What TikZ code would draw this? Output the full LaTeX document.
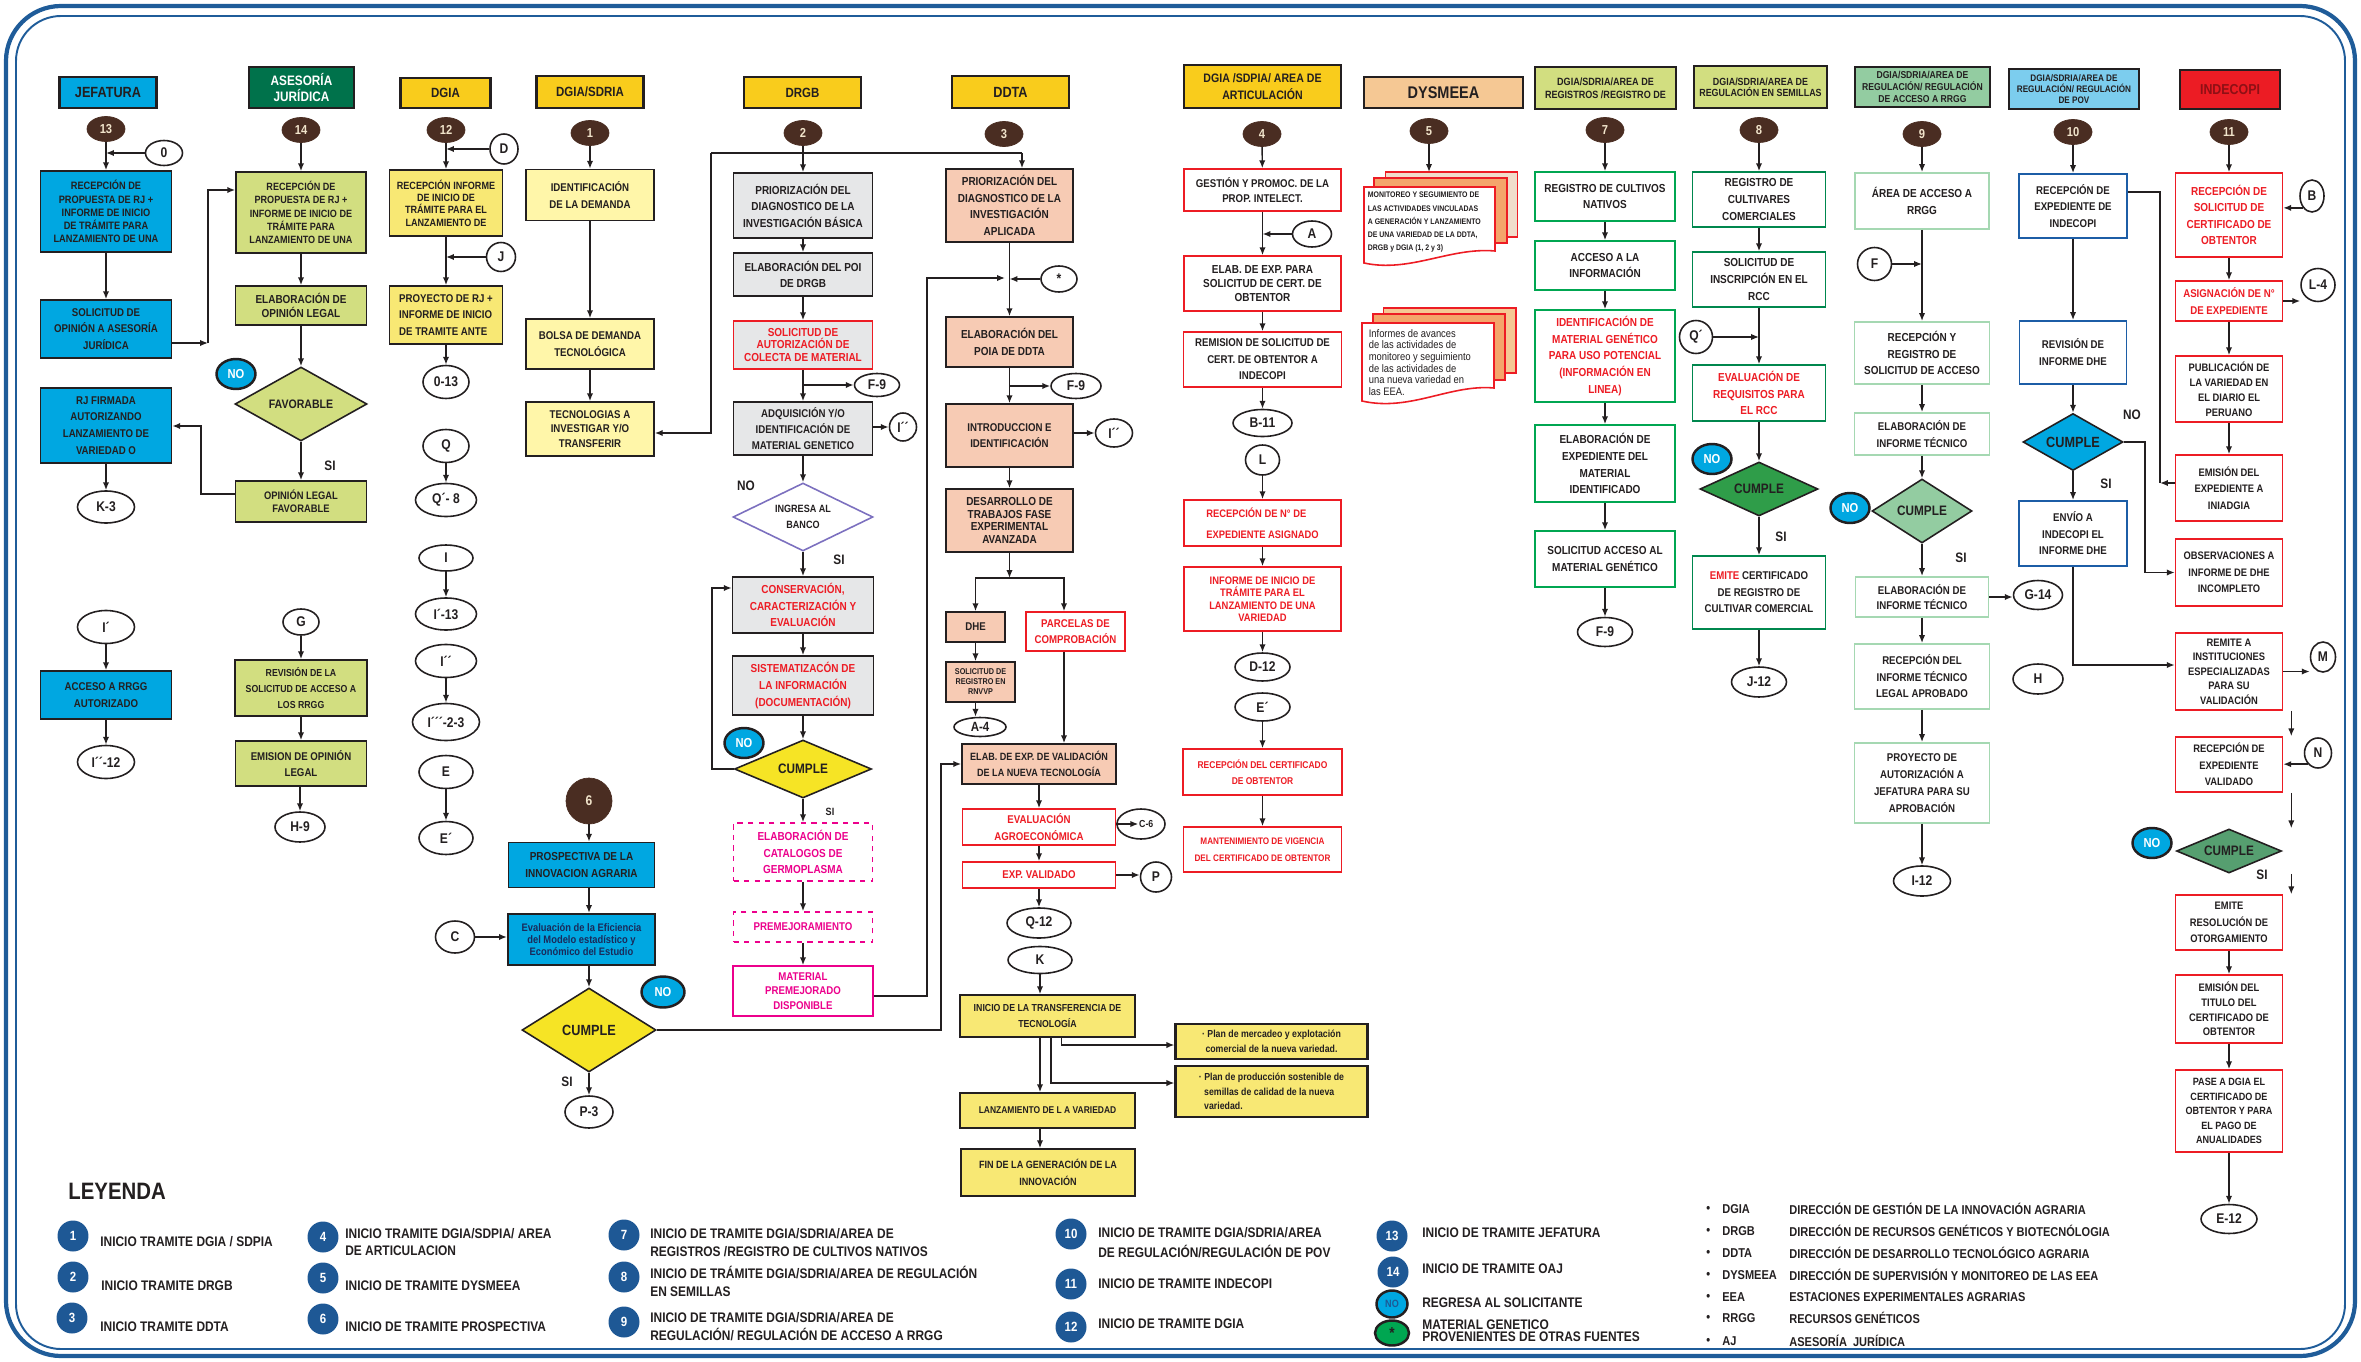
\documentclass[tikz,border=0pt]{standalone}
\usepackage{fontspec}
\setmainfont{Liberation Sans}[FakeStretch=0.86]
\usetikzlibrary{shapes.geometric, arrows.meta, positioning, calc}
\definecolor{ink}{HTML}{231F20}
\definecolor{cyn}{HTML}{00A7E1}
\definecolor{asegrn}{HTML}{00724B}
\definecolor{gold}{HTML}{F9CC1C}
\definecolor{lime}{HTML}{D2DE80}
\definecolor{yel}{HTML}{F8E874}
\definecolor{paleyel}{HTML}{FFF6A9}
\definecolor{gry}{HTML}{E6E7E8}
\definecolor{sal}{HTML}{F7CBB4}
\definecolor{peach}{HTML}{F5C894}
\definecolor{brn}{HTML}{4A2D22}
\definecolor{cream}{HTML}{F1E4CB}
\definecolor{rd}{HTML}{ED1C24}
\definecolor{mag}{HTML}{EC008C}
\definecolor{grn}{HTML}{00A651}
\definecolor{dgrn}{HTML}{00874E}
\definecolor{mintb}{HTML}{A5D8B2}
\definecolor{mint}{HTML}{93CCA1}
\definecolor{povb}{HTML}{1C5DA6}
\definecolor{pov}{HTML}{7CCDEE}
\definecolor{indred}{HTML}{EC1C24}
\definecolor{indtxt}{HTML}{8E1015}
\definecolor{ylw}{HTML}{F6E425}
\definecolor{gdia}{HTML}{2F9D49}
\definecolor{dgdia}{HTML}{569F70}
\definecolor{purp}{HTML}{7C70BF}
\definecolor{orng}{HTML}{F4A56B}
\definecolor{beig}{HTML}{F0DDCB}
\definecolor{legblu}{HTML}{1E5895}
\definecolor{frmblue}{HTML}{1F5C99}
\definecolor{navyt}{HTML}{1A2A5A}
\def\pxu{0.02cm}
\tikzset{sz/.style 2 args={minimum width=#1*\pxu, minimum height=#2*\pxu},
  fs/.style 2 args={font=\fontsize{#1}{#2}\selectfont\bfseries}}
\tikzstyle{box} = [draw=ink, line width=0.9pt, align=center, inner sep=1pt, text=ink, fs={6.4}{9.4}]
\tikzstyle{hdr} = [box, line width=1.2pt, fs={7.6}{9}]
\tikzstyle{conn} = [ellipse, draw=ink, line width=0.9pt, fill=white, inner sep=0pt, text=ink, fs={8}{9}]
\tikzstyle{numc} = [ellipse, fill=brn, draw=brn, inner sep=0pt, text=cream, fs={7.4}{8}, sz={38}{25}]
\tikzstyle{nocirc} = [ellipse, draw=ink, line width=1.4pt, fill=cyn, text=white, inner sep=0pt, fs={7.4}{8}, sz={39}{30}]
\tikzstyle{dec} = [diamond, draw=ink, line width=0.9pt, inner sep=0pt, aspect=2, align=center, text=ink, fs={7.8}{9}]
\tikzstyle{lbl} = [text=ink, inner sep=0pt, fs={7.8}{9}]
\tikzstyle{docpg} = [draw=rd, line width=0.9pt]
\tikzstyle{legc} = [circle, fill=legblu, text=white, inner sep=0pt, minimum size=0.62cm, fs={7.6}{8}]
\tikzstyle{legt} = [anchor=west, align=left, inner sep=0pt, text=ink, fs={7.9}{10.2}]
\tikzstyle{deft} = [anchor=west, inner sep=0pt, text=ink, fs={7.3}{8}]
\tikzstyle{arrow} = [line width=0.8pt, draw=ink, -{Latex[length=4.5pt, width=3.6pt]}]
\tikzstyle{line} = [line width=0.8pt, draw=ink]
\begin{document}
\begin{tikzpicture}[x=0.02cm, y=-0.02cm]
\useasboundingbox (0,0) rectangle (2361,1362);
\draw[draw=frmblue, line width=2.4pt, rounded corners=1.1cm] (6,6) rectangle (2355,1356);
\draw[draw=frmblue, line width=1.1pt, rounded corners=0.9cm] (16,16) rectangle (2345,1349);

\node[hdr, fill=cyn, sz={97}{31}, fs={8.4}{10}] (hjef) at (108,92.5) {JEFATURA};
\node[hdr, fill=asegrn, text=white, sz={105}{41}, fs={7.8}{9.4}] (hase) at (301.5,87.5) {ASESORÍA\\JURÍDICA};
\node[hdr, fill=gold, sz={90}{30}] (hdgia) at (445.5,93) {DGIA};
\node[hdr, fill=gold, sz={107}{32}] (hsdr) at (590,92) {DGIA/SDRIA};
\node[hdr, fill=gold, sz={117}{31}] (hdrgb) at (802.5,92.5) {DRGB};
\node[hdr, fill=gold, sz={117}{32}, fs={8.4}{10}] (hddta) at (1010.5,92) {DDTA};
\node[hdr, fill=gold, sz={157}{43}, fs={7}{9.4}] (hart) at (1262.5,86.5) {DGIA /SDPIA/ AREA DE\\ARTICULACIÓN};
\node[hdr, fill=peach, sz={159}{31}, fs={9.6}{11}] (hdys) at (1443.5,92.5) {DYSMEEA};
\node[hdr, fill=lime, sz={141}{42}, fs={6}{7.6}] (hreg) at (1605.5,88) {DGIA/SDRIA/AREA DE\\REGISTROS /REGISTRO DE};
\node[hdr, fill=lime, sz={133}{42}, fs={5.9}{6.4}] (hsem) at (1760.5,87) {DGIA/SDRIA/AREA DE\\REGULACIÓN EN SEMILLAS};
\node[hdr, fill=mint, sz={135}{40}, fs={5.7}{6.6}] (hacc) at (1922.5,87) {DGIA/SDRIA/AREA DE\\REGULACIÓN/ REGULACIÓN\\DE ACCESO A RRGG};
\node[hdr, fill=pov, sz={130}{40}, fs={5.4}{6.1}] (hpov) at (2074,89) {DGIA/SDRIA/AREA DE\\REGULACIÓN/ REGULACIÓN\\DE POV};
\node[hdr, fill=indred, text=indtxt, sz={100}{39}, fs={8.2}{9}] (hind) at (2230,89.5) {INDECOPI};

\node[numc] (n13) at (106,129) {13};
\node[numc] (n14) at (301,130) {14};
\node[numc] (n12) at (446,130) {12};
\node[numc] (n1) at (590,133) {1};
\node[numc] (n2) at (803,133) {2};
\node[numc] (n3) at (1004,134) {3};
\node[numc] (n4) at (1262,134) {4};
\node[numc] (n5) at (1429,131) {5};
\node[numc] (n7) at (1605,130) {7};
\node[numc] (n8) at (1759,130) {8};
\node[numc] (n9) at (1922,134) {9};
\node[numc] (n10) at (2073,132) {10};
\node[numc] (n11) at (2229,132) {11};
\node[numc, sz={46}{46}, fs={8}{9}] (n6) at (589,801) {6};

\node[box, fill=cyn, sz={131}{81}, fs={6.1}{7.5}] (jf1) at (106,211.5) {RECEPCIÓN DE\\PROPUESTA DE RJ +\\INFORME DE INICIO\\DE TRÁMITE PARA\\LANZAMIENTO DE UNA};
\node[box, fill=cyn, sz={131}{58}] (jf2) at (106,329) {SOLICITUD DE\\OPINIÓN A ASESORÍA\\JURÍDICA};
\node[box, fill=cyn, sz={131}{75}, fs={6.4}{9.6}] (jf3) at (106,425.5) {RJ FIRMADA\\AUTORIZANDO\\LANZAMIENTO DE\\VARIEDAD O};
\node[conn, sz={37}{25}] (k0) at (164,153) {0};
\node[conn, sz={57}{32}] (k3) at (106,507) {K-3};
\node[conn, sz={57}{33}] (ip) at (106,627) {I´};
\node[box, fill=cyn, sz={131}{48}] (jf4) at (106,695) {ACCESO A RRGG\\AUTORIZADO};
\node[conn, sz={57}{33}] (ipp12) at (106,762) {I´´-12};

\node[box, fill=lime, sz={130}{81}, fs={6}{7.6}] (as1) at (301,212.5) {RECEPCIÓN DE\\PROPUESTA DE RJ +\\INFORME DE INICIO DE\\TRÁMITE PARA\\LANZAMIENTO DE UNA};
\node[box, fill=lime, sz={131}{39}, fs={6.6}{7.6}] (as2) at (301,305.5) {ELABORACIÓN DE\\OPINIÓN LEGAL};
\node[dec, fill=lime, sz={132}{74}, fs={7}{8}] (fav) at (301,404) {FAVORABLE};
\node[nocirc] (no1) at (236,374) {NO};
\node[lbl] (si1) at (330,466) {SI};
\node[box, fill=lime, sz={131}{41}, fs={6.2}{7.4}] (as3) at (301,501.5) {OPINIÓN LEGAL\\FAVORABLE};
\node[conn, sz={36}{26}] (kg) at (301,622) {G};
\node[box, fill=lime, sz={132}{56}, fs={5.8}{9.2}] (as4) at (301,688) {REVISIÓN DE LA\\SOLICITUD DE ACCESO A\\LOS RRGG};
\node[box, fill=lime, sz={131}{45}] (as5) at (301,763.5) {EMISION DE OPINIÓN\\LEGAL};
\node[conn, sz={50}{30}] (h9) at (300,827) {H-9};

\node[box, fill=yel, sz={113}{66}, fs={6}{7}] (dg1) at (446,203) {RECEPCIÓN INFORME\\DE INICIO DE\\TRÁMITE PARA EL\\LANZAMIENTO DE};
\node[box, fill=yel, sz={113}{58}, align=left] (dg2) at (446,315) {PROYECTO DE RJ +\\INFORME DE INICIO\\DE TRAMITE ANTE};
\node[conn, sz={28}{30}] (kd) at (504,149) {D};
\node[conn, sz={29}{29}] (kj) at (501,257) {J};
\node[conn, sz={46}{33}] (k013) at (446,382) {0-13};
\node[conn, sz={46}{33}] (kq) at (446,446) {Q};
\node[conn, sz={61}{33}] (kq8) at (446,500) {Q´- 8};
\node[conn, sz={54}{26}] (ki) at (446,558) {I};
\node[conn, sz={61}{32}] (ki13) at (446,614) {I´-13};
\node[conn, sz={61}{33}] (kipp) at (446,661) {I´´};
\node[conn, sz={67}{37}] (ki23) at (446,722) {I´´´-2-3};
\node[conn, sz={54}{33}] (ke) at (446,772) {E};
\node[conn, sz={54}{33}] (kep) at (446,838) {E´};

\node[box, fill=paleyel, sz={128}{51}] (sd1) at (590,195) {IDENTIFICACIÓN\\DE LA DEMANDA};
\node[box, fill=paleyel, sz={128}{50}] (sd2) at (590,344) {BOLSA DE DEMANDA\\TECNOLÓGICA};
\node[box, fill=paleyel, sz={128}{54}, fs={6.4}{8.2}] (sd3) at (590,429) {TECNOLOGIAS A\\INVESTIGAR Y/O\\TRANSFERIR};

\node[box, fill=gry, sz={139}{65}, fs={6.6}{9.4}] (dr1) at (803,205.5) {PRIORIZACIÓN DEL\\DIAGNOSTICO DE LA\\INVESTIGACIÓN BÁSICA};
\node[box, fill=gry, sz={139}{43}, fs={6.6}{9.4}] (dr2) at (803,274.5) {ELABORACIÓN DEL POI\\DE DRGB};
\node[box, fill=gry, draw=rd, text=rd, sz={139}{48}, fs={6.6}{7.2}] (dr3) at (803,345) {SOLICITUD DE\\AUTORIZACIÓN DE\\COLECTA DE MATERIAL};
\node[conn, sz={45}{23}] (f9a) at (877,385) {F-9};
\node[box, fill=gry, sz={139}{53}, fs={6.4}{9.2}] (dr4) at (803,428.5) {ADQUISICIÓN Y/O\\IDENTIFICACIÓN DE\\MATERIAL GENETICO};
\node[conn, sz={27}{28}] (ipa) at (903,427) {I´´};
\node[dec, draw=purp, fill=white, sz={140}{68}, fs={6}{9.4}] (ban) at (803,517) {INGRESA AL\\BANCO};
\node[lbl] (no2) at (746,486) {NO};
\node[lbl] (si2) at (839,560) {SI};
\node[box, fill=gry, text=rd, sz={141}{56}, fs={6.6}{9.6}] (dr5) at (803,605) {CONSERVACIÓN,\\CARACTERIZACIÓN Y\\EVALUACIÓN};
\node[box, fill=gry, text=rd, sz={141}{59}, fs={6.6}{9.6}] (dr6) at (803,685.5) {SISTEMATIZACÓN DE\\LA INFORMACIÓN\\(DOCUMENTACIÓN)};
\node[dec, fill=ylw, sz={137}{58}] (cum1) at (803,769) {CUMPLE};
\node[nocirc] (no3) at (744,743) {NO};
\node[lbl, fs={6}{7}] (si3) at (830,812) {SI};
\node[box, dashed, draw=mag, text=mag, fill=white, sz={139}{58}, fs={6.6}{9.6}] (dr7) at (803,852) {ELABORACIÓN DE\\CATALOGOS DE\\GERMOPLASMA};
\node[box, dashed, draw=mag, text=mag, fill=white, sz={139}{30}] (dr8) at (803,927) {PREMEJORAMIENTO};
\node[box, draw=mag, text=mag, fill=white, sz={140}{50}, fs={6.4}{8.2}] (dr9) at (803,991) {MATERIAL\\PREMEJORADO\\DISPONIBLE};

\node[box, fill=sal, sz={127}{73}, fs={6.6}{9.4}] (dt1) at (1009.5,205.5) {PRIORIZACIÓN DEL\\DIAGNOSTICO DE LA\\INVESTIGACIÓN\\APLICADA};
\node[conn, sz={36}{26}] (kst) at (1059,279) {*};
\node[box, fill=sal, sz={127}{50}, fs={6.6}{9.6}] (dt2) at (1009.5,342) {ELABORACIÓN DEL\\POIA DE DDTA};
\node[conn, sz={50}{25}] (f9b) at (1076,386) {F-9};
\node[box, fill=sal, sz={127}{63}, fs={6.4}{9.4}] (dt3) at (1009.5,435.5) {INTRODUCCION E\\IDENTIFICACIÓN};
\node[conn, sz={37}{28}] (ipb) at (1114,433) {I´´};
\node[box, fill=sal, sz={127}{63}, fs={6.6}{7.3}] (dt4) at (1009.5,520.5) {DESARROLLO DE\\TRABAJOS FASE\\EXPERIMENTAL\\AVANZADA};
\node[box, fill=sal, sz={59}{30}] (dhe) at (975.5,627) {DHE};
\node[box, fill=sal, sz={69}{40}, fs={4.8}{5.7}] (rnv) at (980.5,682) {SOLICITUD DE\\REGISTRO EN\\RNVVP};
\node[conn, sz={52}{19}, fs={7.6}{8}] (a4) at (980,727) {A-4};
\node[box, draw=rd, text=rd, fill=white, sz={99}{39}] (pc) at (1075.5,631.5) {PARCELAS DE\\COMPROBACIÓN};
\node[box, fill=sal, sz={154}{40}, fs={6}{9}] (dt5) at (1039,764) {ELAB. DE EXP. DE VALIDACIÓN\\DE LA NUEVA TECNOLOGÍA};
\node[box, draw=rd, text=rd, fill=white, sz={153}{36}, fs={6.4}{9.4}] (dt6) at (1039,827) {EVALUACIÓN\\AGROECONÓMICA};
\node[conn, sz={48}{30}, fs={5.8}{6}] (c6k) at (1141,824) {\hspace{6pt}C-6};
\node[box, draw=rd, text=rd, fill=white, sz={153}{26}] (dt7) at (1039,875) {EXP. VALIDADO};
\node[conn, sz={31}{30}] (kp) at (1156,877) {P};
\node[conn, sz={64}{30}] (q12) at (1039,923) {Q-12};
\node[conn, sz={64}{27}] (kk) at (1040,960) {K};
\node[box, fill=yel, sz={175}{42}, fs={5.8}{9.4}] (dt8) at (1047.5,1016) {INICIO DE LA TRANSFERENCIA DE\\TECNOLOGÍA};
\node[box, fill=yel, sz={175}{35}, fs={5.6}{7}] (dt9) at (1047.5,1110.5) {LANZAMIENTO DE L A VARIEDAD};
\node[box, fill=yel, sz={174}{47}, fs={6}{9.4}] (dt10) at (1048,1172.5) {FIN DE LA GENERACIÓN DE LA\\INNOVACIÓN};
\node[box, fill=yel, line width=1.3pt, sz={192}{35}, fs={5.8}{8.4}] (pl1) at (1271.5,1041.5) {· Plan de mercadeo y explotación\\comercial de la nueva variedad.};
\node[box, fill=yel, line width=1.3pt, sz={192}{51}, fs={5.8}{8.4}, align=left] (pl2) at (1271.5,1091.5) {· Plan de producción sostenible de\\\hspace{3pt}semillas de calidad de la nueva\\\hspace{3pt}variedad.};

\node[box, draw=rd, fill=white, sz={157}{42}, fs={6.4}{9}] (ar1) at (1262.5,190) {GESTIÓN Y PROMOC. DE LA\\PROP. INTELECT.};
\node[conn, sz={39}{26}] (ka) at (1312,234) {A};
\node[box, draw=rd, fill=white, sz={157}{55}, fs={6.6}{8.2}] (ar2) at (1262.5,283.5) {ELAB. DE EXP. PARA\\SOLICITUD DE CERT. DE\\OBTENTOR};
\node[box, draw=rd, fill=white, sz={158}{55}, fs={6.4}{9.4}] (ar3) at (1262.5,359.5) {REMISION DE SOLICITUD DE\\CERT. DE OBTENTOR A\\INDECOPI};
\node[conn, sz={59}{27}] (b11) at (1262.5,423) {B-11};
\node[conn, sz={34}{30}] (kl) at (1262.5,460) {L};
\node[box, draw=rd, text=rd, fill=white, sz={157}{46}, fs={6.2}{11.8}, align=left] (ar4) at (1262.5,523) {RECEPCIÓN DE N° DE\\EXPEDIENTE ASIGNADO};
\node[box, draw=rd, text=rd, fill=white, sz={157}{64}, fs={6.2}{7.1}] (ar5) at (1262.5,599) {INFORME DE INICIO DE\\TRÁMITE PARA EL\\LANZAMIENTO DE UNA\\VARIEDAD};
\node[conn, sz={55}{28}] (d12) at (1262.5,667) {D-12};
\node[conn, sz={55}{28}] (kep2) at (1262.5,707) {E´};
\node[box, draw=rd, text=rd, fill=white, sz={159}{46}, fs={5.6}{9.4}] (ar6) at (1262.5,772) {RECEPCIÓN DEL CERTIFICADO\\DE OBTENTOR};
\node[box, draw=rd, text=rd, fill=white, sz={158}{45}, fs={5.4}{9.4}] (ar7) at (1262.5,849.5) {MANTENIMIENTO DE VIGENCIA\\DEL CERTIFICADO DE OBTENTOR};

\coordinate (dtop) at (1429,172);
\draw[docpg, fill=beig] (1385.5,172) rectangle (1517.5,237);
\draw[docpg, fill=orng] (1374,178) rectangle (1507,243);
\draw[docpg, fill=white] (1364,187) -- (1495,187) -- (1495,251) .. controls (1450,247) and (1410,273) .. (1364,263) -- cycle;
\node[anchor=north west, align=left, inner sep=0pt, text=ink, fs={4.6}{7.5}] (mon) at (1367.5,192) {MONITOREO Y SEGUIMIENTO DE\\LAS ACTIVIDADES VINCULADAS\\A GENERACIÓN Y LANZAMIENTO\\DE UNA VARIEDAD DE LA DDTA,\\DRGB y DGIA (1, 2 y 3)};
\draw[docpg, fill=peach] (1383.6,308) rectangle (1516,373);
\draw[docpg, fill=orng] (1373,314) rectangle (1505,380);
\draw[docpg, fill=white] (1362,323) -- (1494,323) -- (1494,388) .. controls (1450,384) and (1410,412) .. (1362,401) -- cycle;
\node[anchor=north west, align=left, inner sep=0pt, text=ink, font=\fontsize{6.2}{6.6}\selectfont] (inf) at (1368.5,329) {Informes de avances\\de las actividades de\\monitoreo y seguimiento\\de las actividades de\\una nueva variedad en\\las EEA.};

\node[box, draw=grn, fill=white, sz={140}{49}, fs={6.6}{9.6}] (rg1) at (1605,196.5) {REGISTRO DE CULTIVOS\\NATIVOS};
\node[box, draw=grn, fill=white, sz={140}{49}, fs={6.6}{9.6}] (rg2) at (1605,265.5) {ACCESO A LA\\INFORMACIÓN};
\node[box, draw=grn, fill=white, text=rd, sz={140}{92}, fs={6.6}{9.5}] (rg3) at (1605,356) {IDENTIFICACIÓN DE\\MATERIAL GENÉTICO\\PARA USO POTENCIAL\\(INFORMACIÓN EN\\LINEA)};
\node[box, draw=grn, fill=white, sz={140}{77}, fs={6.6}{9.6}] (rg4) at (1605,463.5) {ELABORACIÓN DE\\EXPEDIENTE DEL\\MATERIAL\\IDENTIFICADO};
\node[box, draw=grn, fill=white, sz={140}{56}, fs={6.6}{9.6}] (rg5) at (1605,559) {SOLICITUD ACCESO AL\\MATERIAL GENÉTICO};
\node[conn, sz={55}{29}] (f9c) at (1605,632) {F-9};

\node[box, draw=dgrn, fill=white, sz={133}{55}, fs={6.6}{9.4}] (se1) at (1759,199.5) {REGISTRO DE\\CULTIVARES\\COMERCIALES};
\node[box, draw=dgrn, fill=white, sz={133}{55}, fs={6.6}{9.4}] (se2) at (1759,279.5) {SOLICITUD DE\\INSCRIPCIÓN EN EL\\RCC};
\node[conn, sz={33}{33}] (kq1) at (1696,337) {Q´};
\node[box, draw=dgrn, fill=white, text=rd, sz={133}{56}, fs={6.6}{9.4}] (se3) at (1759,393) {EVALUACIÓN DE\\REQUISITOS PARA\\EL RCC};
\node[nocirc] (no4) at (1712,459) {NO};
\node[dec, fill=gdia, sz={118}{54}] (cum2) at (1759,489) {CUMPLE};
\node[lbl] (si4) at (1781,537) {SI};
\node[box, draw=dgrn, fill=white, sz={133}{73}, fs={6.4}{9.4}] (se4) at (1759,592.5) {\textcolor{rd}{EMITE} CERTIFICADO\\DE REGISTRO DE\\CULTIVAR COMERCIAL};
\node[conn, sz={55}{30}] (j12) at (1759,682) {J-12};

\node[box, draw=mintb, line width=1.1pt, fill=white, sz={134}{56}, fs={6.6}{9.6}] (rr1) at (1922,201) {ÁREA DE ACCESO A\\RRGG};
\node[conn, sz={34}{33}] (kf) at (1874.5,264) {F};
\node[box, draw=mintb, line width=1.1pt, fill=white, sz={135}{62}, fs={6.6}{9.4}] (rr2) at (1922,353) {RECEPCIÓN Y\\REGISTRO DE\\SOLICITUD DE ACCESO};
\node[box, draw=mintb, line width=1.1pt, fill=white, sz={135}{42}, fs={6.4}{9.4}] (rr3) at (1922,434) {ELABORACIÓN DE\\INFORME TÉCNICO};
\node[nocirc] (no5) at (1850,508) {NO};
\node[dec, fill=mint, sz={100}{64}] (cum3) at (1922,511) {CUMPLE};
\node[lbl] (si5) at (1961,558) {SI};
\node[box, draw=mintb, line width=1.1pt, fill=white, sz={133}{40}, fs={6.4}{9}] (rr4) at (1922,597) {ELABORACIÓN DE\\INFORME TÉCNICO};
\node[conn, sz={49}{29}] (g14) at (2038,595) {G-14};
\node[box, draw=mintb, line width=1.1pt, fill=white, sz={135}{65}, fs={6.4}{9.4}] (rr5) at (1922,676.5) {RECEPCIÓN DEL\\INFORME TÉCNICO\\LEGAL APROBADO};
\node[box, draw=mintb, line width=1.1pt, fill=white, sz={135}{80}, fs={6.4}{9.6}] (rr6) at (1922,783) {PROYECTO DE\\AUTORIZACIÓN A\\JEFATURA PARA SU\\APROBACIÓN};
\node[conn, sz={57}{30}] (i12) at (1922,881) {I-12};

\node[box, draw=povb, line width=1.1pt, fill=white, sz={108}{64}, fs={6.4}{9.4}] (pv1) at (2073,206) {RECEPCIÓN DE\\EXPEDIENTE DE\\INDECOPI};
\node[box, draw=povb, line width=1.1pt, fill=white, sz={107}{63}, fs={6.4}{9.6}] (pv2) at (2073,352.5) {REVISIÓN DE\\INFORME DHE};
\node[dec, fill=cyn, sz={100}{57}, fs={8.4}{9}] (cum4) at (2073,442) {CUMPLE};
\node[lbl] (no6) at (2132,415) {NO};
\node[lbl] (si6) at (2106,484) {SI};
\node[box, draw=povb, line width=1.1pt, fill=white, sz={108}{65}, fs={6.4}{9.4}] (pv3) at (2073,533.5) {ENVÍO A\\INDECOPI EL\\INFORME DHE};
\node[conn, sz={50}{30}] (kh) at (2038,679) {H};

\node[box, draw=rd, text=rd, fill=white, sz={107}{84}, fs={6.6}{9.4}] (in1) at (2229,215) {RECEPCIÓN DE\\SOLICITUD DE\\CERTIFICADO DE\\OBTENTOR};
\node[conn, sz={24}{32}] (kb) at (2312,196) {B};
\node[box, draw=rd, text=rd, fill=white, sz={107}{40}, fs={6.4}{9.4}] (in2) at (2229,301) {ASIGNACIÓN DE N°\\DE EXPEDIENTE};
\node[conn, sz={34}{33}] (kl4) at (2318,285) {L-4};
\node[box, draw=rd, fill=white, sz={107}{66}, fs={6.2}{8.5}] (in3) at (2229,389) {PUBLICACIÓN DE\\LA VARIEDAD EN\\EL DIARIO EL\\PERUANO};
\node[box, draw=rd, fill=white, sz={107}{66}, fs={6.2}{9.4}] (in4) at (2229,488) {EMISIÓN DEL\\EXPEDIENTE A\\INIADGIA};
\node[box, draw=rd, fill=white, sz={107}{67}, fs={6.2}{9.4}] (in5) at (2229,572.5) {OBSERVACIONES A\\INFORME DE DHE\\INCOMPLETO};
\node[box, draw=rd, fill=white, sz={107}{77}, fs={6.2}{8.3}] (in6) at (2229,671.5) {REMITE A\\INSTITUCIONES\\ESPECIALIZADAS\\PARA SU\\VALIDACIÓN};
\node[conn, sz={25}{30}] (km) at (2323,657) {M};
\node[box, draw=rd, fill=white, sz={107}{55}, fs={6.2}{9.4}] (in7) at (2229,764.5) {RECEPCIÓN DE\\EXPEDIENTE\\VALIDADO};
\node[conn, sz={27}{30}] (kn) at (2318,753) {N};
\node[dec, fill=dgdia, sz={105}{44}] (cum5) at (2229,851) {CUMPLE};
\node[nocirc] (no7) at (2152,843) {NO};
\node[lbl] (si7) at (2262,875) {SI};
\node[box, draw=rd, fill=white, sz={107}{55}, fs={6.2}{9.4}] (in8) at (2229,922.5) {EMITE\\RESOLUCIÓN DE\\OTORGAMIENTO};
\node[box, draw=rd, fill=white, sz={107}{68}, fs={6.2}{8.3}] (in9) at (2229,1009) {EMISIÓN DEL\\TITULO DEL\\CERTIFICADO DE\\OBTENTOR};
\node[box, draw=rd, fill=white, sz={107}{82}, fs={6}{8.2}] (in10) at (2229,1111) {PASE A DGIA EL\\CERTIFICADO DE\\OBTENTOR Y PARA\\EL PAGO DE\\ANUALIDADES};
\node[conn, sz={56}{29}] (e12) at (2229,1219) {E-12};

\node[box, fill=cyn, sz={146}{45}, fs={6.6}{9.6}] (ps1) at (581.5,865) {PROSPECTIVA DE LA\\INNOVACION AGRARIA};
\node[box, fill=cyn, line width=1.2pt, sz={147}{51}, text=navyt, fs={6.2}{6.9}] (ps2) at (581.5,939.5) {Evaluación de la Eficiencia\\del Modelo estadístico y\\Económico del Estudio};
\node[conn, sz={39}{32}] (kc) at (455,937) {C};
\node[dec, fill=ylw, sz={134}{84}, fs={8.4}{9}] (cum6) at (589,1030) {CUMPLE};
\node[nocirc, sz={43}{31}] (no8) at (663,992) {NO};
\node[lbl] (si8) at (567,1082) {SI};
\node[conn, sz={48}{32}] (p3) at (589,1112) {P-3};

\draw[arrow] (n13) -- (jf1);
\draw[arrow] (k0.west) -- (k0.west -| n13);
\draw[arrow] (jf1) -- (jf2);
\draw[arrow] (jf2.east |- 0,343) -- (208,343);
\draw[arrow] (208,343) |- (as1.west |- 0,190);
\draw[arrow] (as3.west |- 0,494) -- (201,494) -- (201,426) -- (jf3.east |- 0,426);
\draw[arrow] (jf3) -- (k3);
\draw[arrow] (ip) -- (jf4);
\draw[arrow] (jf4) -- (ipp12);

\draw[arrow] (n14) -- (as1);
\draw[arrow] (as1) -- (as2);
\draw[arrow] (as2) -- (fav);
\draw[arrow] (fav) -- (as3);
\draw[arrow] (kg) -- (as4);
\draw[arrow] (as4) -- (as5);
\draw[arrow] (as5.south -| h9) -- (h9);

\draw[arrow] (n12) -- (dg1);
\draw[arrow] (kd.west) -- (kd.west -| n12);
\draw[arrow] (dg1) -- (dg2);
\draw[arrow] (kj.west) -- (kj.west -| n12);
\draw[arrow] (dg2) -- (k013);
\draw[arrow] (kq) -- (kq8);
\draw[arrow] (ki) -- (ki13);
\draw[arrow] (kipp) -- (ki23);
\draw[arrow] (ke) -- (kep);

\draw[arrow] (n1) -- (sd1);
\draw[arrow] (sd1) -- (sd2);
\draw[arrow] (sd2) -- (sd3);

\coordinate (lt) at (711,153);
\draw[line] (lt) -- (1022,153);
\draw[arrow] (1022,153) -- (dt1.north -| 1022,0);
\draw[arrow] (lt) |- (sd3.east |- 0,433);
\draw[arrow] (n2) -- (dr1);
\draw[arrow] (dr1) -- (dr2);
\draw[arrow] (dr2) -- (dr3);
\draw[arrow] (dr3) -- (dr4);
\draw[arrow] (dr3.south |- f9a) -- (f9a);
\draw[arrow] (dr4.east |- ipa) -- (ipa);
\draw[arrow] (dr4) -- (ban);
\draw[arrow] (ban) -- (dr5);
\draw[arrow] (dr5) -- (dr6);
\draw[arrow] (dr6) -- (cum1);
\draw[arrow] (cum1.west) -- (712,769) |- (dr5.west |- 0,588);
\draw[arrow] (cum1) -- (dr7);
\draw[arrow] (dr7) -- (dr8);
\draw[arrow] (dr8) -- (dr9);
\draw[arrow] (dr9.east |- 0,996) -- (927,996) -- (927,278) -- (1005,278);
\draw[arrow] (kst) -- (kst -| dt1);

\draw[arrow] (dt1) -- (dt2);
\draw[arrow] (dt2) -- (dt3);
\draw[arrow] (dt2.south |- f9b) -- (f9b);
\draw[arrow] (dt3.east |- ipb) -- (ipb);
\draw[arrow] (dt3) -- (dt4);
\coordinate (sp) at (1009.5,578);
\draw[arrow] (dt4) -- (sp);
\draw[arrow] (sp) -| (dhe);
\draw[arrow] (sp) -| (pc.north -| 1064,0);
\draw[arrow] (dhe) -- (dhe |- rnv.north);
\draw[arrow] (rnv.south -| dhe) -- (a4.north -| dhe);
\draw[arrow] (pc.south -| 1064,0) -- (dt5.north -| 1064,0);
\draw[arrow] (dt5) -- (dt6);
\draw[arrow] (dt6) -- (dt7);
\draw[arrow] (dt7) -- (q12);
\draw[arrow] (dt6.east |- c6k) -- ++(22,0);
\draw[arrow] (dt7.east) -- (dt7.east -| kp.west);
\draw[arrow] (kk) -- (kk |- dt8.north);
\draw[arrow] (dt8.south -| kk) -- (dt9.north -| kk);
\draw[arrow] (dt9.south -| kk) -- (dt10.north -| kk);
\draw[arrow] (dt8.south -| 1061.5,0) |- (pl1.west |- 0,1045);
\draw[arrow] (dt8.south -| 1051,0) |- (pl2.west |- 0,1083);
\draw[arrow] (cum6.east) -- (941,1030) |- (dt5.west);

\draw[arrow] (n4) -- (ar1);
\draw[arrow] (ar1) -- (ar2);
\draw[arrow] (ka.west) -- (ka.west -| ar1);
\draw[arrow] (ar2) -- (ar3);
\draw[arrow] (ar3) -- (b11);
\draw[arrow] (kl) -- (ar4);
\draw[arrow] (ar4) -- (ar5);
\draw[arrow] (ar5) -- (d12);
\draw[arrow] (kep2) -- (ar6);
\draw[arrow] (ar6) -- (ar7);

\draw[arrow] (n5) -- (dtop);

\draw[arrow] (n7) -- (rg1);
\draw[arrow] (rg1) -- (rg2);
\draw[arrow] (rg2) -- (rg3);
\draw[arrow] (rg3) -- (rg4);
\draw[arrow] (rg4) -- (rg5);
\draw[arrow] (rg5) -- (f9c);

\draw[arrow] (n8) -- (se1);
\draw[arrow] (se1) -- (se2);
\draw[arrow] (se2) -- (se3);
\draw[arrow] (kq1.east) -- (kq1.east -| se2);
\draw[arrow] (se3) -- (cum2);
\draw[arrow] (cum2) -- (se4);
\draw[arrow] (se4) -- (j12);

\draw[arrow] (n9) -- (rr1);
\draw[arrow] (rr1) -- (rr2);
\draw[arrow] (kf.east) -- (kf.east -| rr1);
\draw[arrow] (rr2) -- (rr3);
\draw[arrow] (rr3) -- (cum3);
\draw[arrow] (cum3) -- (rr4);
\draw[arrow] (rr4.east) -- (rr4.east -| g14.west);
\draw[arrow] (rr4) -- (rr5);
\draw[arrow] (rr5) -- (rr6);
\draw[arrow] (rr6) -- (i12);

\draw[arrow] (n10) -- (pv1);
\draw[arrow] (pv1) -- (pv2);
\draw[arrow] (pv2) -- (cum4);
\draw[arrow] (cum4) -- (pv3);
\draw[arrow] (cum4.east) -- (2145,442) |- (in5.west);
\coordinate (pj) at (2160,483);
\draw[line] (pv1.east |- 0,192) -| (pj);
\draw[arrow] (in4.west |- pj) -- (pj);
\draw[arrow] (pv3) |- (in6.west |- 0,665);

\draw[arrow] (n11) -- (in1);
\draw[arrow] (kb.south west) -- (kb.south west -| in1.east);
\draw[arrow] (in1) -- (in2);
\draw[arrow] (in2.east) -- (in2.east -| kl4.west);
\draw[arrow] (in2) -- (in3);
\draw[arrow] (in3) -- (in4);
\draw[arrow] (in6.east) -- (in6.east -| km.west);
\draw[arrow] ([xshift=0.16cm]in6.south east) -- ([xshift=0.16cm]in7.north east);
\draw[arrow] (kn.south west) -- (kn.south west -| in7.east);
\draw[arrow] ([xshift=0.16cm]in7.south east) -- ([xshift=0.16cm]in7.south east |- cum5.north);
\draw[arrow] ([xshift=0.16cm]in8.north east |- cum5.south) -- ([xshift=0.16cm]in8.north east);
\draw[arrow] (in8) -- (in9);
\draw[arrow] (in9) -- (in10);
\draw[arrow] (in10) -- (e12);

\draw[arrow] (n6.south) -- (n6.south |- ps1.north);
\draw[arrow] (ps1.south -| n6) -- (ps2.north -| n6);
\draw[arrow] (kc.east) -- (kc.east -| ps2.west);
\draw[arrow] (ps2.south -| n6) -- (cum6);
\draw[arrow] (cum6) -- (p3);

\node[anchor=west, inner sep=0pt, text=ink, fs={13.5}{15}] (ley) at (68,1191) {LEYENDA};
\node[legc] (l1) at (73,1236) {1};
\node[legt] (t1) at (100,1242) {INICIO TRAMITE DGIA / SDPIA};
\node[legc] (l2) at (73,1277) {2};
\node[legt] (t2) at (101,1286) {INICIO TRAMITE DRGB};
\node[legc] (l3) at (72,1318) {3};
\node[legt] (t3) at (100,1327) {INICIO TRAMITE DDTA};
\node[legc] (l4) at (323,1237) {4};
\node[legt] (t4) at (345,1242) {INICIO TRAMITE DGIA/SDPIA/ AREA\\DE ARTICULACION};
\node[legc] (l5) at (323,1278) {5};
\node[legt] (t5) at (345,1286) {INICIO DE TRAMITE DYSMEEA};
\node[legc] (l6) at (323,1319) {6};
\node[legt] (t6) at (345,1327) {INICIO DE TRAMITE PROSPECTIVA};
\node[legc] (l7) at (624,1235) {7};
\node[legt] (t7) at (650,1242.5) {INICIO DE TRAMITE DGIA/SDRIA/AREA DE\\REGISTROS /REGISTRO DE CULTIVOS NATIVOS};
\node[legc] (l8) at (624,1277) {8};
\node[legt] (t8) at (650,1281) {INICIO DE TRÁMITE DGIA/SDRIA/AREA DE REGULACIÓN\\EN SEMILLAS};
\node[legc] (l9) at (624,1322) {9};
\node[legt] (t9) at (650,1326.5) {INICIO DE TRAMITE DGIA/SDRIA/AREA DE\\REGULACIÓN/ REGULACIÓN DE ACCESO A RRGG};
\node[legc] (l10) at (1071,1234) {10};
\node[legt, fs={7.9}{11.3}] (t10) at (1098,1243) {INICIO DE TRAMITE DGIA/SDRIA/AREA\\DE REGULACIÓN/REGULACIÓN DE POV};
\node[legc] (l11) at (1071,1284) {11};
\node[legt] (t11) at (1098,1284) {INICIO DE TRAMITE INDECOPI};
\node[legc] (l12) at (1071,1327) {12};
\node[legt] (t12) at (1098,1324) {INICIO DE TRAMITE DGIA};
\node[legc] (l13) at (1392,1236) {13};
\node[legt] (t13) at (1422,1233) {INICIO DE TRAMITE JEFATURA};
\node[legc] (l14) at (1393,1272) {14};
\node[legt] (t14) at (1422,1269) {INICIO DE TRAMITE OAJ};
\node[ellipse, draw=ink, line width=1.4pt, fill=cyn, text=legblu, inner sep=0pt, sz={31}{27}, fs={6}{7}] (lno) at (1392,1304) {NO};
\node[legt] (tno) at (1422,1303) {REGRESA AL SOLICITANTE};
\node[ellipse, draw=ink, line width=1.4pt, fill=grn, text=ink, inner sep=0pt, sz={34}{25}, fs={9}{9}] (lst) at (1392,1333) {*};
\node[legt, fs={7.9}{6.8}] (tst) at (1422,1331) {MATERIAL GENETICO\\PROVENIENTES DE OTRAS FUENTES};

\node[deft] (b1) at (1706,1209) {•};
\node[deft] (a1) at (1722,1209) {DGIA};
\node[deft] (e1) at (1789,1209) {DIRECCIÓN DE GESTIÓN DE LA INNOVACIÓN AGRARIA};
\node[deft] (b2) at (1706,1231) {•};
\node[deft] (a2) at (1722,1231) {DRGB};
\node[deft] (e2) at (1789,1231) {DIRECCIÓN DE RECURSOS GENÉTICOS Y BIOTECNÓLOGIA};
\node[deft] (b3) at (1706,1253) {•};
\node[deft] (a3) at (1722,1253) {DDTA};
\node[deft] (e3) at (1789,1253) {DIRECCIÓN DE DESARROLLO TECNOLÓGICO AGRARIA};
\node[deft] (b4) at (1706,1275) {•};
\node[deft] (a4l) at (1722,1275) {DYSMEEA};
\node[deft] (e4) at (1789,1275) {DIRECCIÓN DE SUPERVISIÓN Y MONITOREO DE LAS EEA};
\node[deft] (b5) at (1706,1297) {•};
\node[deft] (a5) at (1722,1297) {EEA};
\node[deft] (e5) at (1789,1297) {ESTACIONES EXPERIMENTALES AGRARIAS};
\node[deft] (b6) at (1706,1318) {•};
\node[deft] (a6) at (1722,1318) {RRGG};
\node[deft] (e6) at (1789,1318) {RECURSOS GENÉTICOS};
\node[deft] (b7) at (1706,1341) {•};
\node[deft] (a7) at (1722,1341) {AJ};
\node[deft] (e7) at (1789,1341) {ASESORÍA\ \ JURÍDICA};
\end{tikzpicture}
\end{document}
